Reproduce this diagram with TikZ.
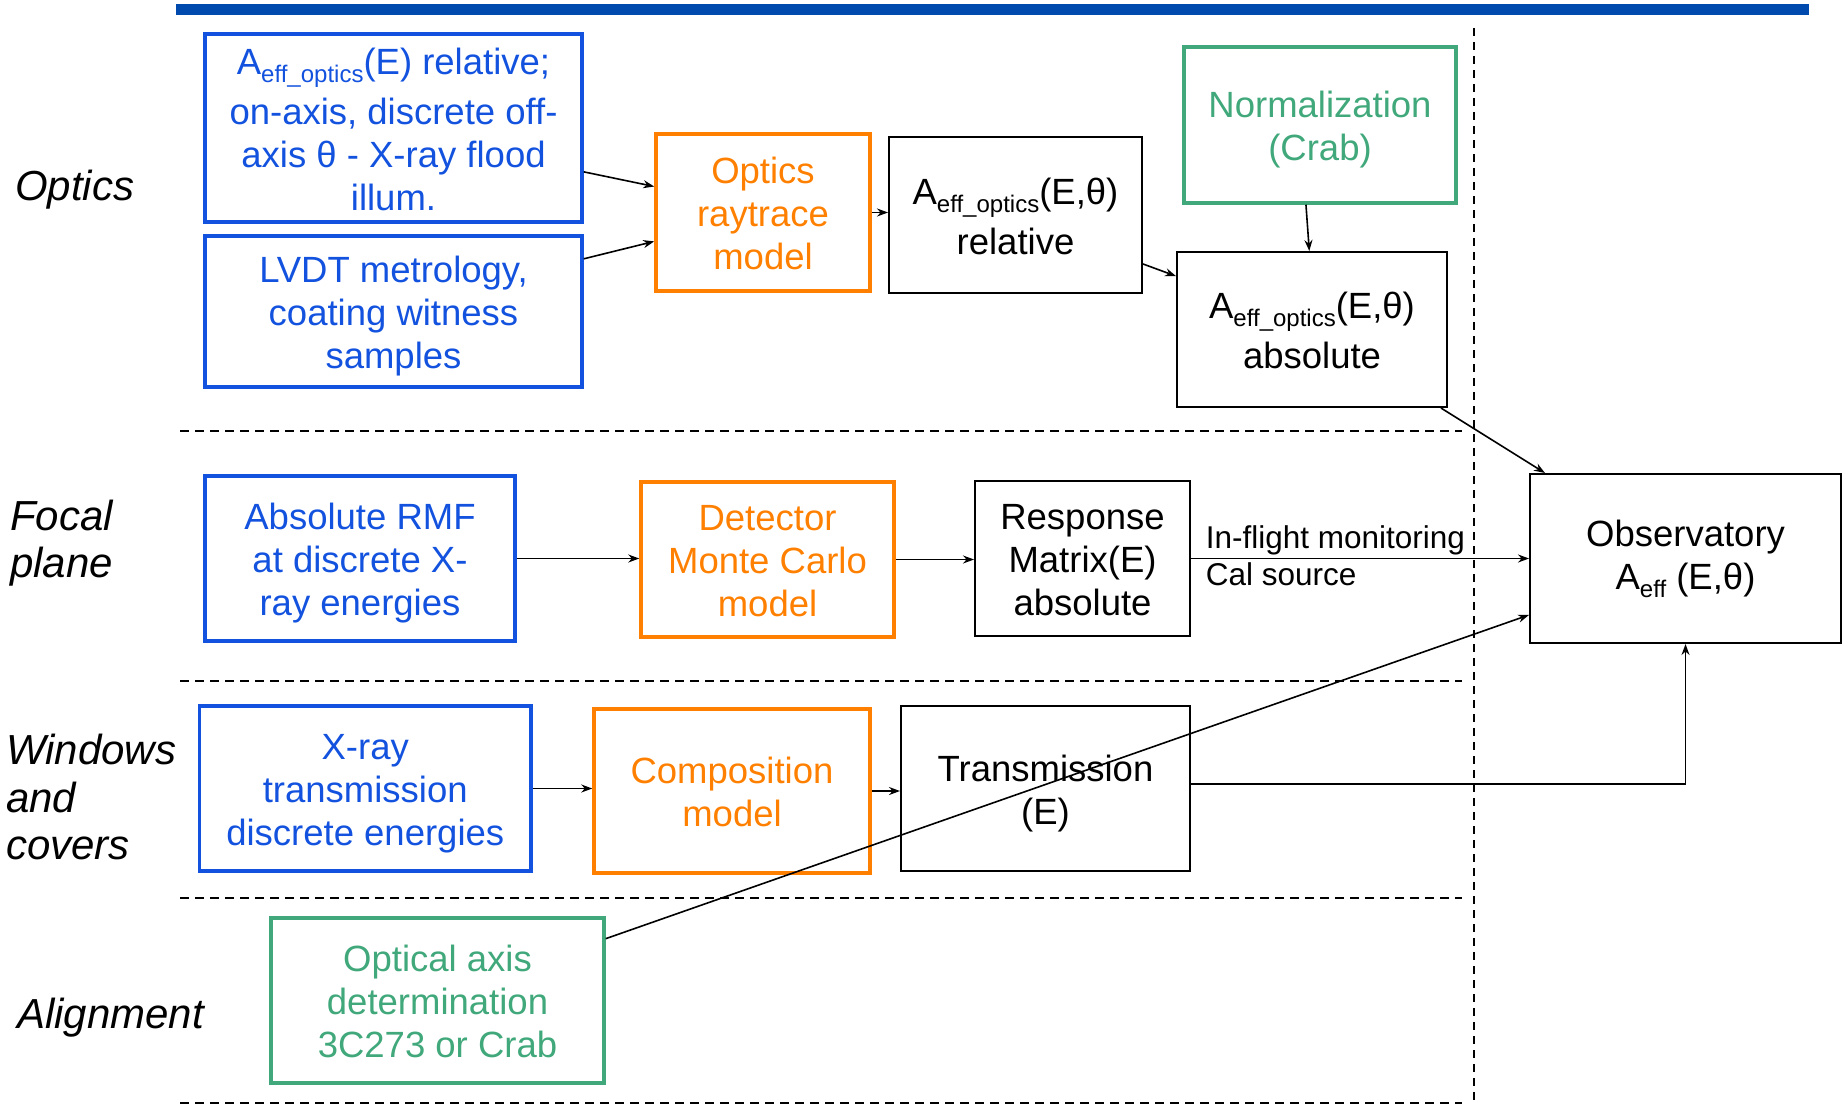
\documentclass[tikz,border=0pt]{standalone}
\usepackage{fontspec}
\setmainfont{Liberation Sans}
\usetikzlibrary{arrows.meta,calc}
\definecolor{boxblue}{RGB}{18,82,222}
\definecolor{boxorange}{RGB}{255,128,0}
\definecolor{boxgreen}{RGB}{64,168,122}
\definecolor{barblue}{RGB}{0,74,173}
\newcommand{\sbs}[1]{\raisebox{-0.22em}{\fontsize{24}{24}\selectfont #1}}
\newcommand{\ts}{\rule{0pt}{36.5pt}}
\newcommand{\botstrut}{\rule[-8pt]{0pt}{8pt}}
\begin{document}
\begin{tikzpicture}[x=1pt,y=-1pt,
  basebox/.style={draw, rectangle, inner sep=0pt, align=center, font=\fontsize{36.5}{43}\selectfont,
    execute at end node=\botstrut},
  bluebox/.style={basebox, draw=boxblue, text=boxblue, line width=3.5pt},
  orangebox/.style={basebox, draw=boxorange, text=boxorange, line width=3.5pt},
  greenbox/.style={basebox, draw=boxgreen, text=boxgreen, line width=3.5pt},
  blackbox/.style={basebox, draw=black, text=black, line width=2pt},
  conn/.style={line width=1.6pt, -{Stealth[length=11pt,width=8pt]}},
  seclabel/.style={font=\fontsize{42}{47.5}\selectfont\itshape, align=left, anchor=west, inner sep=0pt},
  smalllabel/.style={font=\fontsize{31.5}{36}\selectfont, inner sep=0pt, anchor=base west},
  divider/.style={line width=2pt, dash pattern=on 9pt off 6pt}
]
\useasboundingbox (0,0) rectangle (1843,1105);
\fill[barblue] (176,4) rectangle (1809,15);

% dividers
\draw[divider] (180,431) -- (1462,431);
\draw[divider] (180,681) -- (1462,681);
\draw[divider] (180,898) -- (1462,898);
\draw[divider] (180,1103) -- (1462,1103);
\draw[line width=2pt, dash pattern=on 8pt off 6pt] (1474,28) -- (1474,1100);

% section labels
\node[seclabel] (lopt) at (15,190) {Optics};
\node[seclabel] (lfoc) at (10,543) {Focal\\plane};
\node[seclabel] (lwin) at (6,797) {Windows\\and\\covers};
\node[seclabel] (lali) at (17,1018) {Alignment};

% optics row
\node[bluebox, minimum width=377pt, minimum height=188pt] (a1) at (393.5,128)
  {\ts A\sbs{eff\_optics}(E) relative;\\[7pt]on-axis, discrete off-\\axis θ - X-ray flood\\illum.};
\node[bluebox, minimum width=377pt, minimum height=151pt] (a2) at (393.5,311.5)
  {\ts LVDT metrology,\\coating witness\\samples};
\node[orangebox, minimum width=214pt, minimum height=157pt] (orm) at (763,212.5)
  {\ts Optics\\raytrace\\model};
\node[blackbox, minimum width=253pt, minimum height=156pt] (rel) at (1015.5,215)
  {\ts A\sbs{eff\_optics}(E,θ)\\[7pt]relative};
\node[greenbox, minimum width=272pt, minimum height=156pt] (norm) at (1320,125)
  {\ts Normalization\\(Crab)};
\node[blackbox, minimum width=270pt, minimum height=155pt] (abs) at (1312,329.5)
  {\ts A\sbs{eff\_optics}(E,θ)\\[7pt]absolute};
\node[blackbox, minimum width=311pt, minimum height=169pt] (obs) at (1685.5,558.5)
  {Observatory\\A\sbs{eff} (E,θ)};

% focal plane row
\node[bluebox, minimum width=310pt, minimum height=165pt] (rmf) at (360,558.5)
  {\ts Absolute RMF\\at discrete X-\\ray energies};
\node[orangebox, minimum width=253pt, minimum height=155pt] (dmc) at (767.5,559.5)
  {\ts Detector\\Monte Carlo\\model};
\node[blackbox, minimum width=215pt, minimum height=155pt] (resp) at (1082.5,558.5)
  {\ts Response\\Matrix(E)\\absolute};

% windows row
\node[bluebox, minimum width=331.5pt, minimum height=165pt] (xrt) at (365.25,788.5)
  {\ts X-ray\\transmission\\discrete energies};
\node[orangebox, minimum width=276pt, minimum height=164pt] (comp) at (732,791)
  {\ts Composition\\model};
\node[blackbox, minimum width=289pt, minimum height=165pt] (trans) at (1045.5,788.5)
  {\ts Transmission\\(E)};

% alignment row
\node[greenbox, minimum width=333pt, minimum height=165pt] (oad) at (437.5,1000.5)
  {\ts Optical axis\\determination\\3C273 or Crab};

% connectors
\draw[conn] ($(a1.north east)!0.729!(a1.south east)$) -- ($(orm.north west)!0.338!(orm.south west)$);
\draw[conn] ($(a2.north east)!0.159!(a2.south east)$) -- ($(orm.north west)!0.68!(orm.south west)$);
\draw[conn] (orm.east) -- (orm.east -| rel.west);
\draw[conn] ($(rel.north east)!0.81!(rel.south east)$) -- ($(abs.north west)!0.16!(abs.south west)$);
\draw[conn] ($(norm.south west)!0.449!(norm.south east)$) -- ($(abs.north west)!0.49!(abs.north east)$);
\draw[conn] ($(abs.south west)!0.974!(abs.south east)$) -- ($(obs.north west)!0.051!(obs.north east)$);
\draw[conn] (rmf.east) -- (rmf.east -| dmc.west);
\draw[conn] (dmc.east) -- (dmc.east -| resp.west);
\draw[conn] (resp.east) -- (resp.east -| obs.west)
  node[smalllabel, pos=0, xshift=14pt, yshift=10pt] (inflight) {In-flight monitoring}
  node[smalllabel, pos=0, xshift=14pt, yshift=-27pt] (calsrc) {Cal source};
\draw[conn] (xrt.east) -- (xrt.east -| comp.west);
\draw[conn] (comp.east) -- (comp.east -| trans.west);
\draw[conn] ($(trans.north east)!0.473!(trans.south east)$) -| (obs.south);
\draw[conn] ($(oad.north east)!0.133!(oad.south east)$) -- ($(obs.north west)!0.83!(obs.south west)$);
\end{tikzpicture}
\end{document}
